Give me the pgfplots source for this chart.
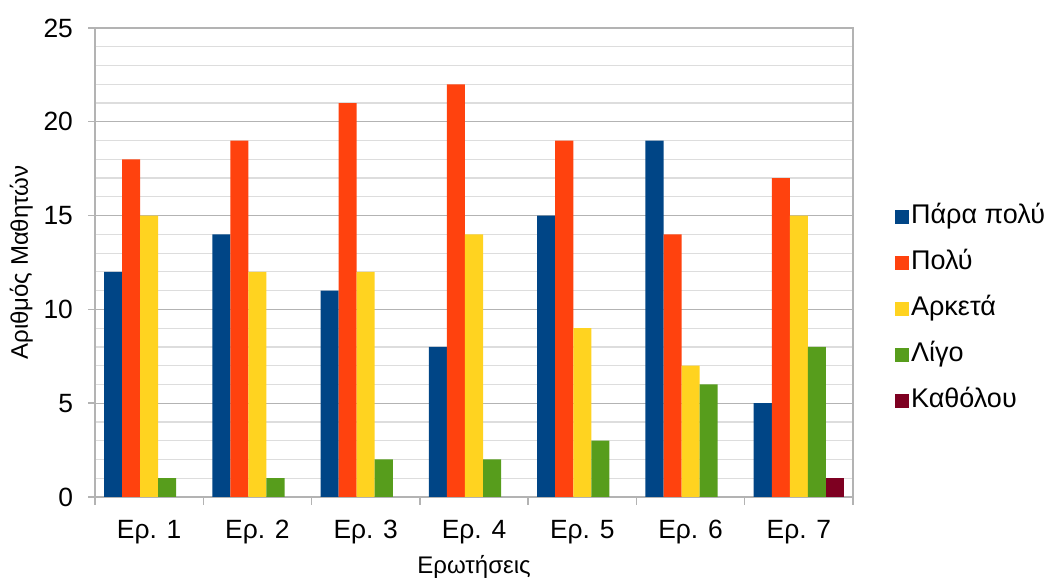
\documentclass[border=0pt]{standalone}
\usepackage{fontspec}
\setmainfont{Liberation Sans}
\usepackage{pgfplots}
\pgfplotsset{compat=1.18}
\definecolor{c1}{HTML}{004586}
\definecolor{c2}{HTML}{FF420E}
\definecolor{c3}{HTML}{FFD320}
\definecolor{c4}{HTML}{579D1C}
\definecolor{c5}{HTML}{7E0021}
\definecolor{gmaj}{HTML}{B3B3B3}
\definecolor{gmin}{HTML}{DDDDDD}
\begin{document}
\begin{tikzpicture}
\useasboundingbox (0,0) rectangle (525pt,290.5pt);
\begin{axis}[
  at={(47.5pt,42pt)}, anchor=south west,
  scale only axis, width=379pt, height=234.5pt,
  ybar=0pt, bar width=0.16667,
  xmin=-0.5, xmax=6.5, ymin=0, ymax=25,
  xtick={0,...,6},
  xticklabels={Ερ. 1,Ερ. 2,Ερ. 3,Ερ. 4,Ερ. 5,Ερ. 6,Ερ. 7},
  minor xtick={-0.5,0.5,...,6.5},
  ytick={0,5,...,25},
  minor y tick num=4,
  ymajorgrids, yminorgrids,
  major grid style={gmaj, line width=0.6pt},
  minor grid style={gmin, line width=0.6pt},
  axis line style={gmaj, line width=0.7pt},
  tick align=outside, xtick pos=bottom, ytick pos=left,
  major x tick style={draw=none},
  minor x tick style={gmaj, line width=0.7pt},
  minor y tick style={draw=none},
  major y tick style={gmaj, line width=0.7pt},
  major tick length=3.5pt, minor tick length=4pt,
  /pgf/number format/assume math mode=true,
  tick label style={font=\fontsize{13.2}{15}\selectfont, text=black},
  yticklabel style={xshift=-4pt},
  xticklabel style={yshift=-4.5pt},
  xlabel={Ερωτήσεις}, ylabel={Αριθμός Μαθητών},
  label style={font=\fontsize{12}{14}\selectfont},
  xlabel style={yshift=1pt},
  ylabel style={yshift=-1.5pt},
  legend style={draw=none, fill=none, at={(1.055,0.401)}, anchor=west,
    font=\fontsize{13.5}{16}\selectfont, row sep=8pt, inner sep=0pt,
    nodes={inner sep=1pt, text height=10pt, text depth=3pt},
    /tikz/every odd column/.append style={column sep=0pt}},
  legend cell align=left,
  legend image code/.code={\fill[#1] (0pt,-3.5pt) rectangle (7pt,3.5pt);},
  every axis plot/.append style={draw=none},
]
\addplot[fill=c1] coordinates {(0,12) (1,14) (2,11) (3,8) (4,15) (5,19) (6,5)};
\addplot[fill=c2] coordinates {(0,18) (1,19) (2,21) (3,22) (4,19) (5,14) (6,17)};
\addplot[fill=c3] coordinates {(0,15) (1,12) (2,12) (3,14) (4,9) (5,7) (6,15)};
\addplot[fill=c4] coordinates {(0,1) (1,1) (2,2) (3,2) (4,3) (5,6) (6,8)};
\addplot[fill=c5] coordinates {(6,1)};
\legend{Πάρα πολύ, Πολύ, Αρκετά, Λίγο, Καθόλου}
\end{axis}
\end{tikzpicture}
\end{document}
